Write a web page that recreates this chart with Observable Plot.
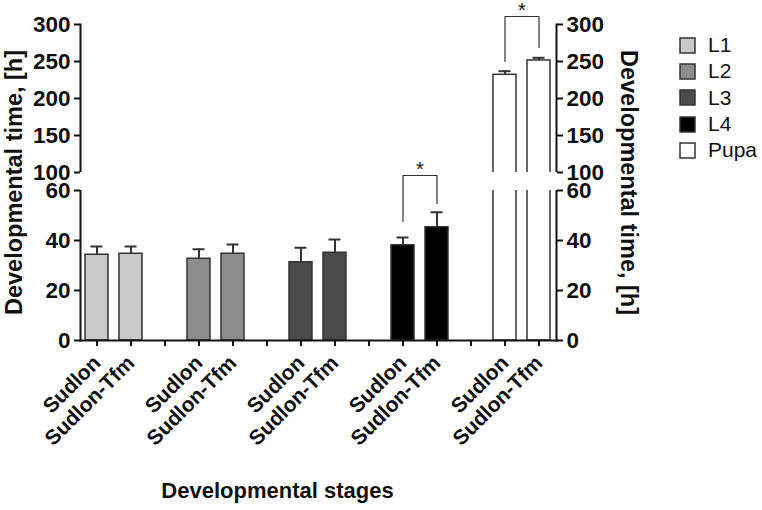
<!DOCTYPE html>
<html><head><meta charset="utf-8">
<script src="https://cdn.jsdelivr.net/npm/d3@7"></script>
<script src="https://cdn.jsdelivr.net/npm/@observablehq/plot@0.6"></script>
<style>
body{margin:0;background:#fff;}
#wrap{position:relative;width:762px;height:510px;overflow:hidden;font-family:'Liberation Sans',Arial,sans-serif;}
</style></head><body><div id="wrap"></div>
<script>
const stages = ["L1","L2","L3","L4","Pupa"];
const stageColors = ["#c9c9c9","#8c8c8c","#4b4b4b","#000000","#ffffff"];
const strains = ["Sudlon","Sudlon-Tfm"];
const meanSudlon = [34.3, 32.7, 31.3, 38.1, 232.0];
const meanTfm    = [34.7, 34.7, 35.1, 45.3, 251.4];
const sdSudlon   = [3.3, 3.8, 5.8, 3.1, 4.9];
const sdTfm      = [2.9, 3.7, 5.3, 6.0, 3.6];
const yTicks = [0, 20, 40, 60, 100, 150, 200, 250, 300];
const yDomain = [0, 60, 100, 300];
const yBreak = [60, 100];
const yTitle = "Developmental time, [h]";
const xTitle = "Developmental stages";
const sigStages = ["L4", "Pupa"];
const sigLeft  = [47.6, 250];
const sigRight = [54.8, 269];
const sigTop   = [93.3, 310.8];

// slots: two bars per stage, with an empty slot between stages
const slots = [];
stages.forEach((s, i) => {
  strains.forEach(st => slots.push(s + "|" + st));
  if (i < stages.length - 1) slots.push(s + "|gap");
});
const data = [];
stages.forEach((s, i) => {
  data.push({slot: s + "|Sudlon", stage: s, mean: meanSudlon[i], top: meanSudlon[i] + sdSudlon[i]});
  data.push({slot: s + "|Sudlon-Tfm", stage: s, mean: meanTfm[i], top: meanTfm[i] + sdTfm[i]});
});
const bracketPts = [];
sigStages.forEach((s, i) => {
  bracketPts.push({id: s, slot: s + "|Sudlon", y: sigLeft[i]});
  bracketPts.push({id: s, slot: s + "|Sudlon", y: sigTop[i]});
  bracketPts.push({id: s, slot: s + "|Sudlon-Tfm", y: sigTop[i]});
  bracketPts.push({id: s, slot: s + "|Sudlon-Tfm", y: sigRight[i]});
});
const stars = sigStages.map((s, i) => ({slot: s + "|Sudlon", y: sigTop[i]}));

const W = 762, H = 510, mL = 80, mR = 206, mT = 24, mB = 170;
const yRange = [340, 190, 172, 24];

const chart = Plot.plot({
  width: W, height: H,
  marginLeft: mL, marginRight: mR, marginTop: mT, marginBottom: mB,
  style: {fontFamily: "'Liberation Sans', Arial, sans-serif", fontWeight: "bold", color: "#111", background: "#fff"},
  x: {type: "band", domain: slots, paddingInner: 0.32, paddingOuter: 0.16, axis: null},
  y: {type: "linear", domain: yDomain, range: yRange, axis: null},
  color: {type: "ordinal", domain: stages, range: stageColors},
  marks: [
    Plot.frame({anchor: "left", stroke: "#111", strokeWidth: 2}),
    Plot.frame({anchor: "right", stroke: "#111", strokeWidth: 2}),
    Plot.barY(data, {x: "slot", y: "mean", fill: "stage", stroke: "#333", strokeWidth: 1.5}),
    Plot.ruleX(data, {x: "slot", y1: "mean", y2: "top", stroke: "#333", strokeWidth: 2}),
    Plot.tickY(data, {x: "slot", y: "top", stroke: "#333", strokeWidth: 2, insetLeft: 5.5, insetRight: 5.5}),
    Plot.rect([yBreak], {y1: d => d[0], y2: d => d[1], fill: "white", insetLeft: -4, insetRight: -4}),
    Plot.frame({anchor: "bottom", stroke: "#111", strokeWidth: 2}),
    Plot.axisY({anchor: "left", ticks: yTicks, tickSize: 6, tickPadding: 4, fontSize: 22.5, fontWeight: "bold", strokeWidth: 2, label: null}),
    Plot.axisY({anchor: "right", ticks: yTicks, tickSize: 6, tickPadding: 4, fontSize: 22.5, fontWeight: "bold", strokeWidth: 2, label: null}),
    Plot.axisX({ticks: slots, tickFormat: d => d.endsWith("|gap") ? "" : d.split("|")[1], tickRotate: -45, tickSize: 6, tickPadding: 13, fontSize: 21, fontWeight: "bold", strokeWidth: 2, label: null}),
    Plot.line(bracketPts, {x: "slot", y: "y", z: "id", stroke: "#333", strokeWidth: 1.2}),
    Plot.text(stars, {x: "slot", y: "y", text: () => "*", dx: 17, dy: -6, fontSize: 20, fontWeight: "normal"}),
    Plot.text([yTitle], {frameAnchor: "left", textAnchor: "middle", rotate: -90, dx: -66, fontSize: 23.5, fontWeight: "bold"}),
    Plot.text([yTitle], {frameAnchor: "right", textAnchor: "middle", rotate: 90, dx: 72, fontSize: 23.5, fontWeight: "bold"}),
    Plot.text([xTitle], {frameAnchor: "bottom", dx: -41, dy: 157, fontSize: 22, fontWeight: "bold"})
  ]
});
const wrap = document.getElementById("wrap");
wrap.appendChild(chart);
chart.style.position = "absolute"; chart.style.left = "0"; chart.style.top = "0";

const leg = chart.legend("color", {columns: 1, swatchWidth: 15, swatchHeight: 15});
leg.style.position = "absolute";
leg.style.left = "680px";
leg.style.top = "32px";
leg.style.fontSize = "21px";
leg.style.fontWeight = "normal";
leg.style.fontFamily = "'Liberation Sans', Arial, sans-serif";
leg.style.color = "#111";
leg.style.margin = "0";
leg.style.background = "transparent";
leg.style.minHeight = "0";
leg.querySelectorAll("svg").forEach(s => {
  s.style.overflow = "visible";
  s.style.marginRight = "13px";
  s.setAttribute("stroke", "#333");
  s.setAttribute("stroke-width", "1.5");
  const item = s.parentElement;
  item.style.height = "26.3px";
  item.style.padding = "0";
  item.style.margin = "0";
  item.style.display = "flex";
  item.style.alignItems = "center";
  item.style.lineHeight = "26.3px";
  item.style.whiteSpace = "nowrap";
});
wrap.appendChild(leg);
</script></body></html>
